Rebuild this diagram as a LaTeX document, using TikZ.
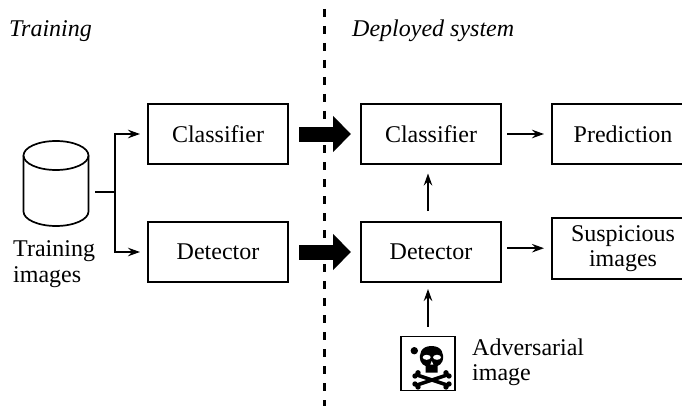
\documentclass[tikz,border=0pt]{standalone}
\usepackage{fontspec}
\setmainfont{Liberation Serif}
\usetikzlibrary{arrows.meta}
\tikzset{
  x=1pt,y=-1pt,
  box/.style={draw=black,line width=1.8pt,minimum width=#1,minimum height=60pt,inner sep=0pt,outer sep=0pt,font=\fontsize{24}{25}\selectfont,align=center},
  box/.default=140pt,
  label/.style={font=\fontsize{24}{25.5}\selectfont,align=left,inner sep=0pt},
  title/.style={font=\fontsize{24}{26}\selectfont\itshape,inner sep=0pt,anchor=base west},
  thin arrow/.style={line width=1.7pt,-{Stealth[length=12pt,width=8.5pt,inset=4pt]}},
  fat arrow/.style={line width=15pt,-{Triangle[length=18pt,width=35pt]}},
  wire/.style={line width=1.7pt}
}
\begin{document}
\begin{tikzpicture}
\useasboundingbox (0,0) rectangle (682,409);
% divider
\coordinate (dtop) at (324.5,9);
\coordinate (dbot) at (324.5,406);
\draw[line width=2.6pt,dash pattern=on 8pt off 9pt] (dtop) -- (dbot);
% titles
\node[title] (ttrain) at (9,37) {Training};
\node[title] (tdep) at (352,37) {Deployed system};
% boxes
\node[box] (c1) at (218,134) {Classifier};
\node[box] (d1) at (218,252) {Detector};
\node[box] (c2) at (431,134) {Classifier};
\node[box] (d2) at (431,252) {Detector};
\node[box=142pt] (p) at (623,134) {Prediction};
\node[box=142pt,minimum height=61pt] (s) at (623,248.2) {Suspicious\\images};
% cylinder
\draw[wire,fill=white] (23.5,155.5) -- (23.5,211.5) arc[start angle=180,end angle=0,x radius=32.5pt,y radius=-14.5pt] -- (88.5,155.5);
\draw[wire] (56,155.5) ellipse[x radius=32.5pt,y radius=14.5pt];
\coordinate (cyl) at (95,192);
\node[label,anchor=base west] (tl) at (13,256) {Training};
\node[label,anchor=base west] (tl2) at (13,282) {images};
% tree
\coordinate (fork) at (115,192);
\draw[wire] (cyl) -- (fork);
\draw[thin arrow] (fork) |- ([xshift=-8pt]c1.west);
\draw[thin arrow] (fork) |- ([xshift=-8pt]d1.west);
% fat arrows
\draw[fat arrow] ([xshift=11pt]c1.east) -- ([xshift=-10pt]c2.west);
\draw[fat arrow] ([xshift=11pt]d1.east) -- ([xshift=-10pt]d2.west);
% adversarial image
\node[draw=black,line width=1.8pt,minimum size=54pt,inner sep=0pt,outer sep=0pt] (adv) at (428,363.5) {};
% deployed arrows
\draw[thin arrow] ([xshift=6pt]c2.east) -- ([xshift=-8pt]p.west);
\draw[thin arrow] ([xshift=6pt]s.west -| d2.east) -- ([xshift=-8pt]s.west);
\draw[thin arrow] ([yshift=11pt]adv.north |- d2.north) -- ([yshift=-9.5pt]adv.north |- c2.south);
\draw[thin arrow] ([yshift=10pt]adv.north) -- ([yshift=-7pt]adv.north |- d2.south);
\node[label,anchor=base west] (al) at (472,355) {Adversarial};
\node[label,anchor=base west] (al2) at (472,380) {image};
% skull
\fill (414.3,350.7) circle (3.7pt);
\fill (431.5,346) .. controls (421,346) and (418.5,354) .. (420.5,361) .. controls (421.5,364) and (423.5,365) .. (425.5,366) -- (425.5,372.5) -- (437.5,372.5) -- (437.5,366) .. controls (439.5,365) and (441.5,364) .. (442.5,361) .. controls (444.5,354) and (442,346) .. (431.5,346) -- cycle;
\fill[white] (426.7,357.3) ellipse[x radius=4pt,y radius=2.5pt];
\fill[white] (437,357.3) ellipse[x radius=4pt,y radius=2.5pt];
\fill[white] (431.8,361) -- (430.3,364.5) -- (433.3,364.5) -- cycle;
\draw[line width=3.5pt] (417,375) -- (447,385);
\draw[line width=3.5pt] (447,375) -- (417,385);
\fill (418,372.8) circle (2.7pt) (415,376) circle (2.7pt) (446,372.8) circle (2.7pt) (449,376) circle (2.7pt);
\fill (418,387) circle (2.7pt) (415,384) circle (2.7pt) (446,387) circle (2.7pt) (449,384) circle (2.7pt);
\end{tikzpicture}
\end{document}
